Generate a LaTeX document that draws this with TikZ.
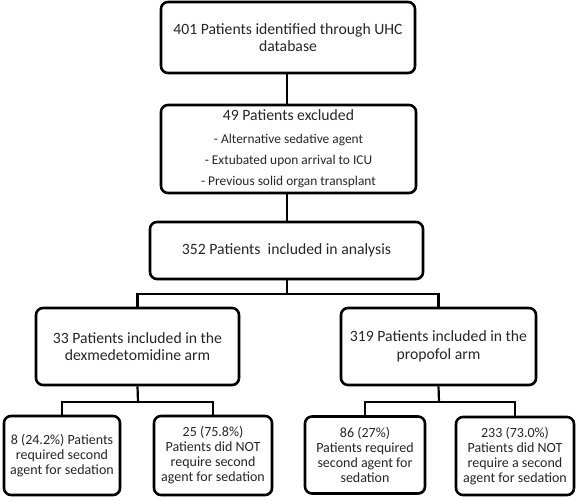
\documentclass[tikz,border=0pt]{standalone}
\usepackage{fontspec}
\setmainfont{Carlito}
\usetikzlibrary{shadows}
\tikzset{
  box/.style={draw=black, line width=2.6pt, rounded corners=7pt, fill=white,
    inner sep=0pt, align=center, text=black!85,
    drop shadow={shadow xshift=1.2pt, shadow yshift=-1.2pt, opacity=0.35, fill=black!60}},
  big/.style={font=\fontsize{15.7}{17.5}\selectfont},
  small/.style={font=\fontsize{14}{15}\selectfont},
  excl/.style={font=\fontsize{13.4}{21}\selectfont},
  conn/.style={draw=black, line width=2.2pt}
}
\begin{document}
\begin{tikzpicture}[x=1pt,y=-1pt]
\useasboundingbox (0,0) rectangle (577,500);
\node[box,big,minimum width=254pt,minimum height=71pt] (b1) at (288,37.5)
  {401 Patients identified through UHC\\database};
\node[box,excl,minimum width=255pt,minimum height=88pt] (b2) at (288.5,149)
  {{\fontsize{15.7}{17}\selectfont 49 Patients excluded}\\[2pt]
   - Alternative sedative agent\\
   - Extubated upon arrival to ICU\\
   - Previous solid organ transplant};
\node[box,big,minimum width=273pt,minimum height=57pt] (b3) at (286.5,250.5)
  {352 Patients\ \ included in analysis};
\node[box,big,minimum width=203pt,minimum height=77pt] (b4) at (137.5,346.5)
  {33 Patients included in the\\dexmedetomidine arm};
\node[box,big,minimum width=195pt,minimum height=77pt] (b5) at (438.5,346.5)
  {319 Patients included in the\\propofol arm};
\node[box,small,minimum width=116pt,minimum height=79pt] (b6) at (62,455.5)
  {8 (24.2\%) Patients\\required second\\agent for sedation};
\node[box,small,minimum width=118pt,minimum height=79pt] (b7) at (213,455.5)
  {25 (75.8\%)\\Patients did NOT\\require second\\agent for sedation};
\node[box,small,minimum width=120pt,minimum height=77pt] (b8) at (365,455)
  {86 (27\%)\\Patients required\\second agent for\\sedation};
\node[box,small,minimum width=118pt,minimum height=78pt] (b9) at (515,456)
  {233 (73.0\%)\\Patients did NOT\\require a second\\agent for sedation};
\coordinate (j1) at (287,294);
\coordinate (j2) at (138,402);
\coordinate (j3) at (439,402);
\draw[conn] (b1.south -| j1) -- (b2.north -| j1);
\draw[conn] (b2.south -| j1) -- (b3.north -| j1);
\draw[conn] (b3.south -| j1) -- (j1);
\draw[conn] (j1) -| (b4.north);
\draw[conn] (j1) -| (b5.north);
\draw[conn] (b4.south) -- (j2);
\draw[conn] (j2) -| (b6.north);
\draw[conn] (j2) -| (b7.north);
\draw[conn] (b5.south) -- (j3);
\draw[conn] (j3) -| (b8.north);
\draw[conn] (j3) -| (b9.north);
\end{tikzpicture}
\end{document}
